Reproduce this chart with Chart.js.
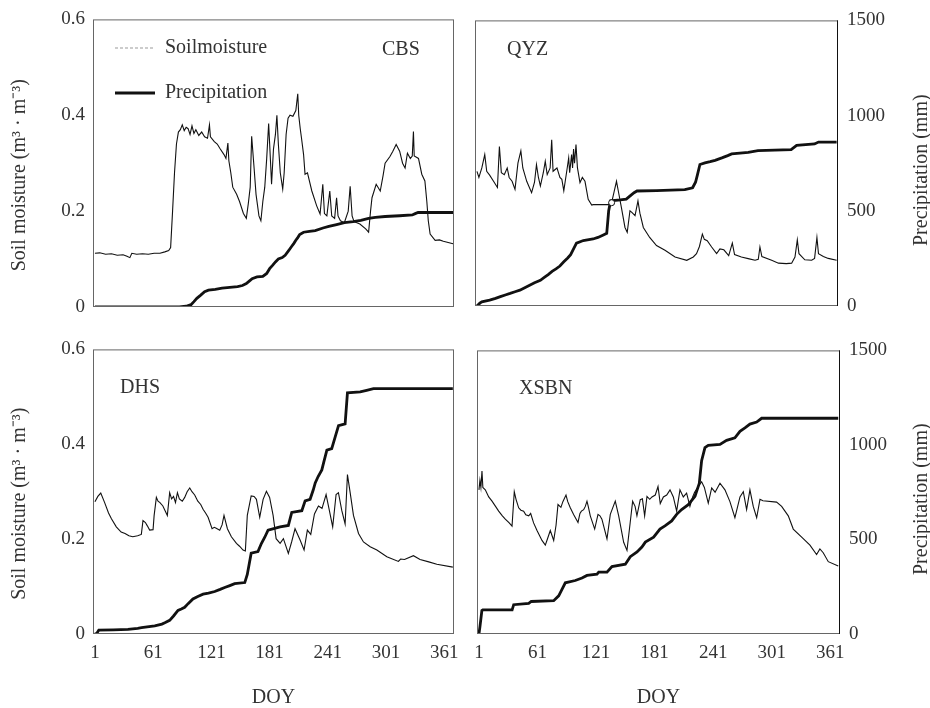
<!DOCTYPE html>
<html>
<head>
<meta charset="utf-8">
<title>Soil moisture and precipitation</title>
<script src="https://cdn.jsdelivr.net/npm/chart.js@4/dist/chart.umd.min.js"></script>
<style>
  html, body { margin: 0; padding: 0; background: #fff; }
  #page { position: relative; width: 930px; height: 708px; overflow: hidden; background: #fff; }
  #page canvas { position: absolute; }
</style>
</head>
<body>
<div id="page">
  <canvas id="cbs"  width="470" height="330" style="left:0;top:0"></canvas>
  <canvas id="qyz"  width="465" height="330" style="left:465px;top:0"></canvas>
  <canvas id="dhs"  width="470" height="378" style="left:0;top:330px"></canvas>
  <canvas id="xsbn" width="465" height="378" style="left:465px;top:330px"></canvas>
</div>
<script>
/* ═══════════════════════════════════════════════════════
   Soil moisture vs. cumulative precipitation — 4 stations
   ═══════════════════════════════════════════════════════ */

const FONT = "'Liberation Serif', 'Times New Roman', serif";
const INK = "#111";
const TEXT = "#333";

// ── Axes ─────────────────────────────────────────────────

const doyTicks = [1, 61, 121, 181, 241, 301, 361];
const soilTicks = [0, 0.2, 0.4, 0.6];
const precipTicks = [0, 500, 1000, 1500];
const seriesNames = ["Soilmoisture", "Precipitation"];
const stations = ["CBS", "QYZ", "DHS", "XSBN"];

// ── Data: [DOY, value] ───────────────────────────────────
// soil moisture in m3/m3, precipitation cumulative in mm

const cbsSoil = [
  [1,0.112],[6,0.113],[12,0.110],[18,0.111],[24,0.108],[30,0.109],[34,0.106],[37,0.103],[39,0.112],
  [44,0.110],[50,0.111],[56,0.110],[62,0.112],[68,0.112],[73,0.115],[77,0.118],[79,0.124],[81,0.20],
  [83,0.28],[85,0.34],[87,0.365],[89,0.37],[91,0.38],[93,0.368],[95,0.375],[97,0.372],[99,0.36],
  [101,0.378],[103,0.362],[105,0.37],[108,0.358],[111,0.365],[114,0.355],[117,0.352],[119,0.38],
  [120,0.355],[124,0.345],[127,0.34],[130,0.33],[134,0.318],[136,0.31],[138,0.342],[139,0.305],
  [141,0.28],[143,0.25],[147,0.235],[150,0.22],[154,0.195],[157,0.185],[159,0.215],[161,0.25],
  [162.5,0.356],[165,0.29],[167,0.235],[170,0.19],[172,0.18],[174,0.22],[176,0.25],[178,0.31],
  [180,0.383],[182,0.30],[183,0.256],[185,0.33],[187,0.36],[188.5,0.40],[190,0.34],[192,0.28],
  [194.5,0.246],[196,0.28],[198,0.36],[200,0.394],[202,0.40],[205,0.398],[208,0.41],[210,0.445],
  [211,0.40],[212.5,0.373],[214,0.35],[216,0.318],[217.5,0.277],[220,0.28],[224.5,0.242],[229.5,0.211],
  [233,0.194],[235.8,0.256],[237.5,0.195],[240,0.19],[243,0.242],[245,0.19],[248,0.185],[250,0.228],
  [251.5,0.19],[254,0.18],[258,0.176],[262,0.20],[264,0.252],[266,0.19],[268,0.178],[274,0.173],
  [280,0.163],[283,0.156],[285,0.20],[286.5,0.228],[290.8,0.256],[295,0.242],[298,0.275],[300,0.30],
  [305,0.314],[308,0.325],[311.4,0.339],[315,0.325],[318,0.30],[320.6,0.29],[323,0.321],[326,0.31],
  [328,0.315],[329.2,0.366],[330,0.315],[334.4,0.31],[337.8,0.277],[341,0.263],[343,0.22],[344.5,0.18],
  [346.4,0.152],[351.6,0.139],[356,0.14],[360,0.137],[366,0.134],[370,0.132]
];
const cbsPrecip = [
  [1,0],[88,0],[95,4],[100,12],[103,28],[106,45],[110,62],[114,80],[118,88],[125,92],[132,98],
  [140,102],[148,106],[153,112],[157,122],[160,135],[163,148],[168,157],[174,160],[178,175],
  [181,200],[184,217],[187,235],[190,250],[194,258],[197,270],[200,290],[202,304],[204,318],
  [206,332],[208,348],[210,362],[212,378],[216,390],[222,395],[228,398],[236,412],[242,420],
  [250,430],[258,440],[267,445],[275,452],[283,462],[290,467],[300,472],[315,476],[328,480],
  [331,487],[334,493],[370,493]
];

const qyzSoil = [
  [1,0.283],[3,0.27],[6,0.29],[9,0.318],[11,0.283],[14,0.275],[18,0.262],[22,0.249],[24,0.335],
  [26,0.28],[29,0.276],[32,0.29],[34,0.27],[37,0.262],[40,0.245],[43,0.30],[46,0.326],[48,0.29],
  [52,0.262],[57,0.238],[60,0.26],[62,0.297],[64,0.27],[66,0.252],[69,0.28],[71,0.304],[73,0.276],
  [76,0.29],[77.6,0.349],[79,0.283],[83,0.29],[86,0.27],[88,0.266],[90,0.242],[93,0.283],[95,0.311],
  [96,0.28],[98,0.318],[99,0.29],[100,0.33],[101,0.30],[102.5,0.339],[104,0.29],[106.6,0.259],
  [109,0.27],[111.7,0.262],[115,0.224],[118.6,0.212],[120,0.213],[137,0.213],[139,0.217],[141,0.235],
  [144,0.262],[146,0.24],[149,0.207],[152.7,0.165],[155,0.155],[157.8,0.20],[160,0.196],[163,0.19],
  [166,0.221],[168,0.195],[171.5,0.165],[178,0.144],[185,0.127],[193.7,0.117],[204,0.103],[216,0.096],
  [222.7,0.103],[226,0.11],[229,0.125],[232,0.151],[234,0.14],[237,0.137],[241.5,0.124],[246.6,0.110],
  [250,0.12],[254,0.118],[259,0.106],[262.7,0.132],[265,0.108],[272,0.103],[280,0.099],[286,0.096],
  [289.3,0.098],[291,0.124],[293,0.104],[303,0.096],[310,0.09],[318,0.089],[323.5,0.09],[326.9,0.103],
  [329.3,0.139],[331,0.11],[337,0.097],[344,0.096],[347,0.10],[349.4,0.144],[351,0.11],[356,0.104],
  [361,0.10],[369.6,0.096]
];
const qyzPrecip = [
  [1,0],[4,15],[6,22],[14,31],[20,40],[25,49],[30,58],[35,66],[40,75],[45,83],[50,96],[55,109],
  [60,122],[66,135],[70,150],[74,165],[78,182],[82,195],[86,210],[90,232],[94,252],[97,270],
  [100,300],[103,330],[110,344],[120,352],[125,360],[130,372],[134,382],[136,500],[138,552],
  [148,557],[154,561],[158,578],[162,595],[165,604],[185,606],[214,611],[222,621],[225,650],
  [227,690],[229.5,743],[234.6,752],[240,758],[245,765],[252,778],[258,790],[262,799],[279,807],
  [289,816],[323,821],[328.6,844],[347,851],[351,861],[369.6,861]
];
// open circle on the soil curve where the record resumes
const qyzMarkDays = [139];

const dhsSoil = [
  [1,0.279],[4,0.29],[7,0.297],[11,0.277],[15,0.255],[18,0.243],[23,0.226],[28,0.215],[32,0.212],
  [36,0.207],[40,0.205],[45,0.207],[48.8,0.21],[50.5,0.239],[53,0.235],[55,0.228],[57.4,0.219],
  [60.9,0.22],[62,0.25],[64.3,0.288],[66,0.28],[68,0.277],[71,0.27],[75.6,0.25],[78,0.298],[80,0.285],
  [82,0.29],[84,0.277],[86,0.298],[88,0.285],[91,0.28],[93.5,0.288],[96,0.30],[98.7,0.308],[101,0.30],
  [103.8,0.293],[107,0.28],[110,0.273],[112.4,0.263],[115,0.255],[117.6,0.246],[121.7,0.222],
  [124,0.225],[126,0.223],[129.6,0.219],[132,0.23],[134,0.25],[137.5,0.222],[141.6,0.205],
  [146.8,0.191],[150,0.185],[153.6,0.177],[156,0.175],[158,0.25],[162,0.291],[165,0.29],[167.4,0.284],
  [170.8,0.246],[174.3,0.284],[177.7,0.301],[181,0.288],[184.6,0.25],[187.7,0.201],[191.8,0.191],
  [195.2,0.201],[200.3,0.170],[203.8,0.195],[207.2,0.222],[212.4,0.198],[216.5,0.177],[219.9,0.219],
  [223.4,0.21],[227.2,0.253],[231.3,0.27],[235,0.265],[239.2,0.294],[242.6,0.26],[246,0.226],
  [249.5,0.294],[251.9,0.298],[255.4,0.26],[258.8,0.232],[261.2,0.336],[264,0.298],[267.4,0.25],
  [272.6,0.212],[277.7,0.194],[284.6,0.184],[291.5,0.177],[301.8,0.163],[313.7,0.153],[316,0.158],
  [320,0.157],[329.2,0.165],[336,0.157],[345,0.152],[353.3,0.147],[369.8,0.141]
];
const dhsPrecip = [
  [1,0],[3,4],[5,21],[20,22],[35,24],[45,30],[49,33],[62.6,43],[70,52],[73,59],[78,72],[82,95],
  [86.6,124],[90,132],[93.5,141],[97,160],[102,185],[107,198],[112.4,210],[118,215],[124.4,224],
  [130,235],[134.7,245],[140,255],[145,265],[155.4,271],[158,314],[162,426],[169,434],[172.5,477],
  [176,510],[179.4,547],[188,559],[191.8,564],[200.3,572],[203.8,641],[214.2,650],[217.6,702],
  [222.7,710],[226,760],[228,796],[231,830],[234.8,865],[237,910],[240,969],[245,977],[248.5,1038],
  [252,1098],[258.8,1107],[261.2,1271],[274.3,1276],[281,1284],[288,1293],[369.8,1293]
];

const xsbnSoil = [
  [1,0.305],[2,0.325],[3,0.31],[4.1,0.345],[5,0.31],[7.5,0.305],[11,0.29],[14.4,0.281],[18,0.27],
  [21.2,0.260],[25,0.25],[28,0.243],[32,0.235],[34.9,0.228],[37.2,0.301],[39,0.285],[41.7,0.267],
  [44,0.262],[46.8,0.26],[49,0.252],[52,0.25],[54,0.255],[57,0.235],[60.5,0.219],[65.6,0.198],
  [69,0.188],[71,0.20],[74.1,0.219],[77.6,0.198],[80,0.23],[82,0.274],[85,0.268],[87,0.28],
  [90.2,0.294],[92,0.28],[94.6,0.267],[98,0.253],[102.5,0.236],[104.5,0.255],[106,0.26],[108.3,0.263],
  [110,0.27],[111.7,0.281],[113,0.27],[115.1,0.25],[119.6,0.222],[123,0.253],[125,0.25],[127,0.243],
  [132.2,0.201],[135.6,0.253],[140.7,0.281],[144.2,0.25],[149.3,0.194],[152.7,0.177],[156,0.236],
  [158.5,0.281],[161,0.27],[162.9,0.25],[166.3,0.284],[168.5,0.286],[170.8,0.25],[173.2,0.291],
  [176,0.285],[178.3,0.29],[181.7,0.294],[184.5,0.312],[186.8,0.276],[190,0.29],[193.4,0.294],
  [196.8,0.305],[200.2,0.29],[203.6,0.26],[207,0.305],[210.4,0.29],[213.8,0.298],[217.2,0.27],
  [220,0.29],[222,0.30],[225.8,0.312],[229.2,0.322],[232,0.31],[236,0.277],[239.5,0.309],[243,0.30],
  [248,0.319],[253.1,0.305],[258.2,0.28],[263.3,0.246],[268.5,0.29],[271.9,0.301],[275.3,0.263],
  [278.7,0.305],[282.1,0.27],[285.6,0.246],[289,0.285],[292,0.282],[306,0.279],[311.2,0.27],
  [318,0.25],[323.1,0.222],[331.7,0.205],[340.2,0.188],[347,0.168],[350.4,0.18],[353.8,0.172],
  [359,0.153],[369.2,0.144]
];
const xsbnPrecip = [
  [1,0],[2,38],[4,124],[5,128],[35,128],[36.6,155],[52,162],[54.6,172],[77.6,176],[82.7,202],
  [86.1,236],[89.5,271],[99.7,283],[106.6,296],[111.7,310],[122,317],[123.7,327],[132.2,327],
  [137.3,357],[151,369],[156.1,409],[163,434],[168,460],[171.5,486],[180,512],[186.5,555],
  [191.6,572],[198.5,598],[203.6,633],[208.7,658],[215.5,684],[222.4,728],[226.8,797],[229.2,917],
  [232.6,986],[236,998],[248,1003],[254.8,1024],[263.3,1038],[268.5,1072],[273.6,1090],[278.7,1110],
  [285.6,1121],[290.7,1141],[369.2,1141]
];

// ── Decorations: frame, station name, titles, legend ─────

function rotatedText(ctx, text, x, y) {
  ctx.save();
  ctx.translate(x, y);
  ctx.rotate(-Math.PI / 2);
  ctx.textAlign = "center";
  ctx.fillText(text, 0, 0);
  ctx.restore();
}

const panelDecor = {
  id: "panelDecor",
  afterDraw(chart, args, p) {
    const { ctx, chartArea: a } = chart;
    ctx.save();

    ctx.lineWidth = 1;
    ctx.strokeStyle = "#666";
    ctx.strokeRect(a.left + 0.5, a.top + 0.5, a.width - 1, a.height - 1);
    if (p.showPrecip) {
      ctx.strokeStyle = INK;
      ctx.beginPath();
      ctx.moveTo(a.right - 0.5, a.top);
      ctx.lineTo(a.right - 0.5, a.bottom);
      ctx.stroke();
    }

    ctx.fillStyle = TEXT;
    ctx.textBaseline = "middle";
    ctx.font = "20px " + FONT;
    ctx.textAlign = "left";
    ctx.fillText(p.name, a.left + p.nameDx, a.top + p.nameDy);

    const midY = (a.top + a.bottom) / 2;
    if (p.showSoil) rotatedText(ctx, "Soil moisture (m³ · m⁻³)", 20, midY + 12);
    if (p.showPrecip) rotatedText(ctx, "Precipitation (mm)", chart.width - 8, midY + 7);
    if (p.showX) {
      ctx.textAlign = "center";
      ctx.fillText("DOY", (a.left + a.right) / 2, chart.height - 10);
    }

    // legend sits inside the first panel
    if (p.legend) {
      const ds = chart.data.datasets;
      [48, 93].forEach((y, i) => {
        ctx.strokeStyle = i === 0 ? "#999" : INK;
        ctx.lineWidth = ds[i].borderWidth;
        ctx.setLineDash(i === 0 ? [3, 2] : []);
        ctx.beginPath();
        ctx.moveTo(115, y);
        ctx.lineTo(155, y);
        ctx.stroke();
        ctx.textAlign = "left";
        ctx.fillText(ds[i].label, 165, y);
      });
    }
    ctx.restore();
  },
};

// ── Panels ───────────────────────────────────────────────

const toXY = (pairs) => pairs.map(([x, y]) => ({ x, y }));
const tickFont = { family: FONT, size: 19 };

function makePanel(id, soil, precip, p) {
  const marks = p.markDays || [];
  new Chart(document.getElementById(id), {
    type: "line",
    data: {
      datasets: [
        { label: seriesNames[0], data: toXY(soil), yAxisID: "ySoil",
          borderColor: INK, borderWidth: 1.1, tension: 0,
          pointRadius: (c) => (c.raw && marks.includes(c.raw.x) ? 3 : 0),
          pointBackgroundColor: "#fff", pointBorderColor: INK, pointBorderWidth: 1 },
        { label: seriesNames[1], data: toXY(precip), yAxisID: "yPrecip",
          borderColor: INK, borderWidth: 2.8, pointRadius: 0, tension: 0 },
      ],
    },
    options: {
      responsive: false,
      animation: false,
      events: [],
      layout: { padding: { top: p.top, left: 0, right: 0, bottom: 0 } },
      plugins: { legend: { display: false }, tooltip: { enabled: false }, panelDecor: p },
      scales: {
        x: {
          type: "linear", min: -1, max: 371,
          grid: { display: false, drawTicks: false }, border: { display: false },
          afterBuildTicks: (s) => { s.ticks = doyTicks.map((value) => ({ value })); },
          ticks: { display: p.showX, padding: 8, font: tickFont, color: TEXT,
                   maxRotation: 0, autoSkip: false, callback: (v) => String(v) },
          afterFit: (s) => { s.height = p.bottom; },
        },
        ySoil: {
          position: "left", min: 0, max: 0.6,
          grid: { display: false, drawTicks: false }, border: { display: false },
          afterBuildTicks: (s) => { s.ticks = soilTicks.map((value) => ({ value })); },
          ticks: { display: p.showSoil, padding: 8, font: tickFont, color: TEXT, callback: (v) => String(v) },
          afterFit: (s) => { s.width = p.left; },
        },
        yPrecip: {
          position: "right", min: 0, max: 1500,
          grid: { display: false, drawTicks: false }, border: { display: false },
          afterBuildTicks: (s) => { s.ticks = precipTicks.map((value) => ({ value })); },
          ticks: { display: p.showPrecip, padding: 9, font: tickFont, color: TEXT, callback: (v) => String(v) },
          afterFit: (s) => { s.width = p.right; },
        },
      },
    },
    plugins: [panelDecor],
  });
}

makePanel("cbs", cbsSoil, cbsPrecip, {
  name: stations[0], nameDx: 289, nameDy: 30, legend: true,
  top: 17, left: 93, right: 16, bottom: 23, showX: false, showSoil: true, showPrecip: false,
});
makePanel("qyz", qyzSoil, qyzPrecip, {
  name: stations[1], nameDx: 32, nameDy: 29, markDays: qyzMarkDays,
  top: 18, left: 10, right: 92, bottom: 24, showX: false, showSoil: false, showPrecip: true,
});
makePanel("dhs", dhsSoil, dhsPrecip, {
  name: stations[2], nameDx: 27, nameDy: 38,
  top: 14, left: 93, right: 16, bottom: 74, showX: true, showSoil: true, showPrecip: false,
});
makePanel("xsbn", xsbnSoil, xsbnPrecip, {
  name: stations[3], nameDx: 42, nameDy: 38,
  top: 14, left: 12, right: 90, bottom: 74, showX: true, showSoil: false, showPrecip: true,
});
</script>
</body>
</html>
